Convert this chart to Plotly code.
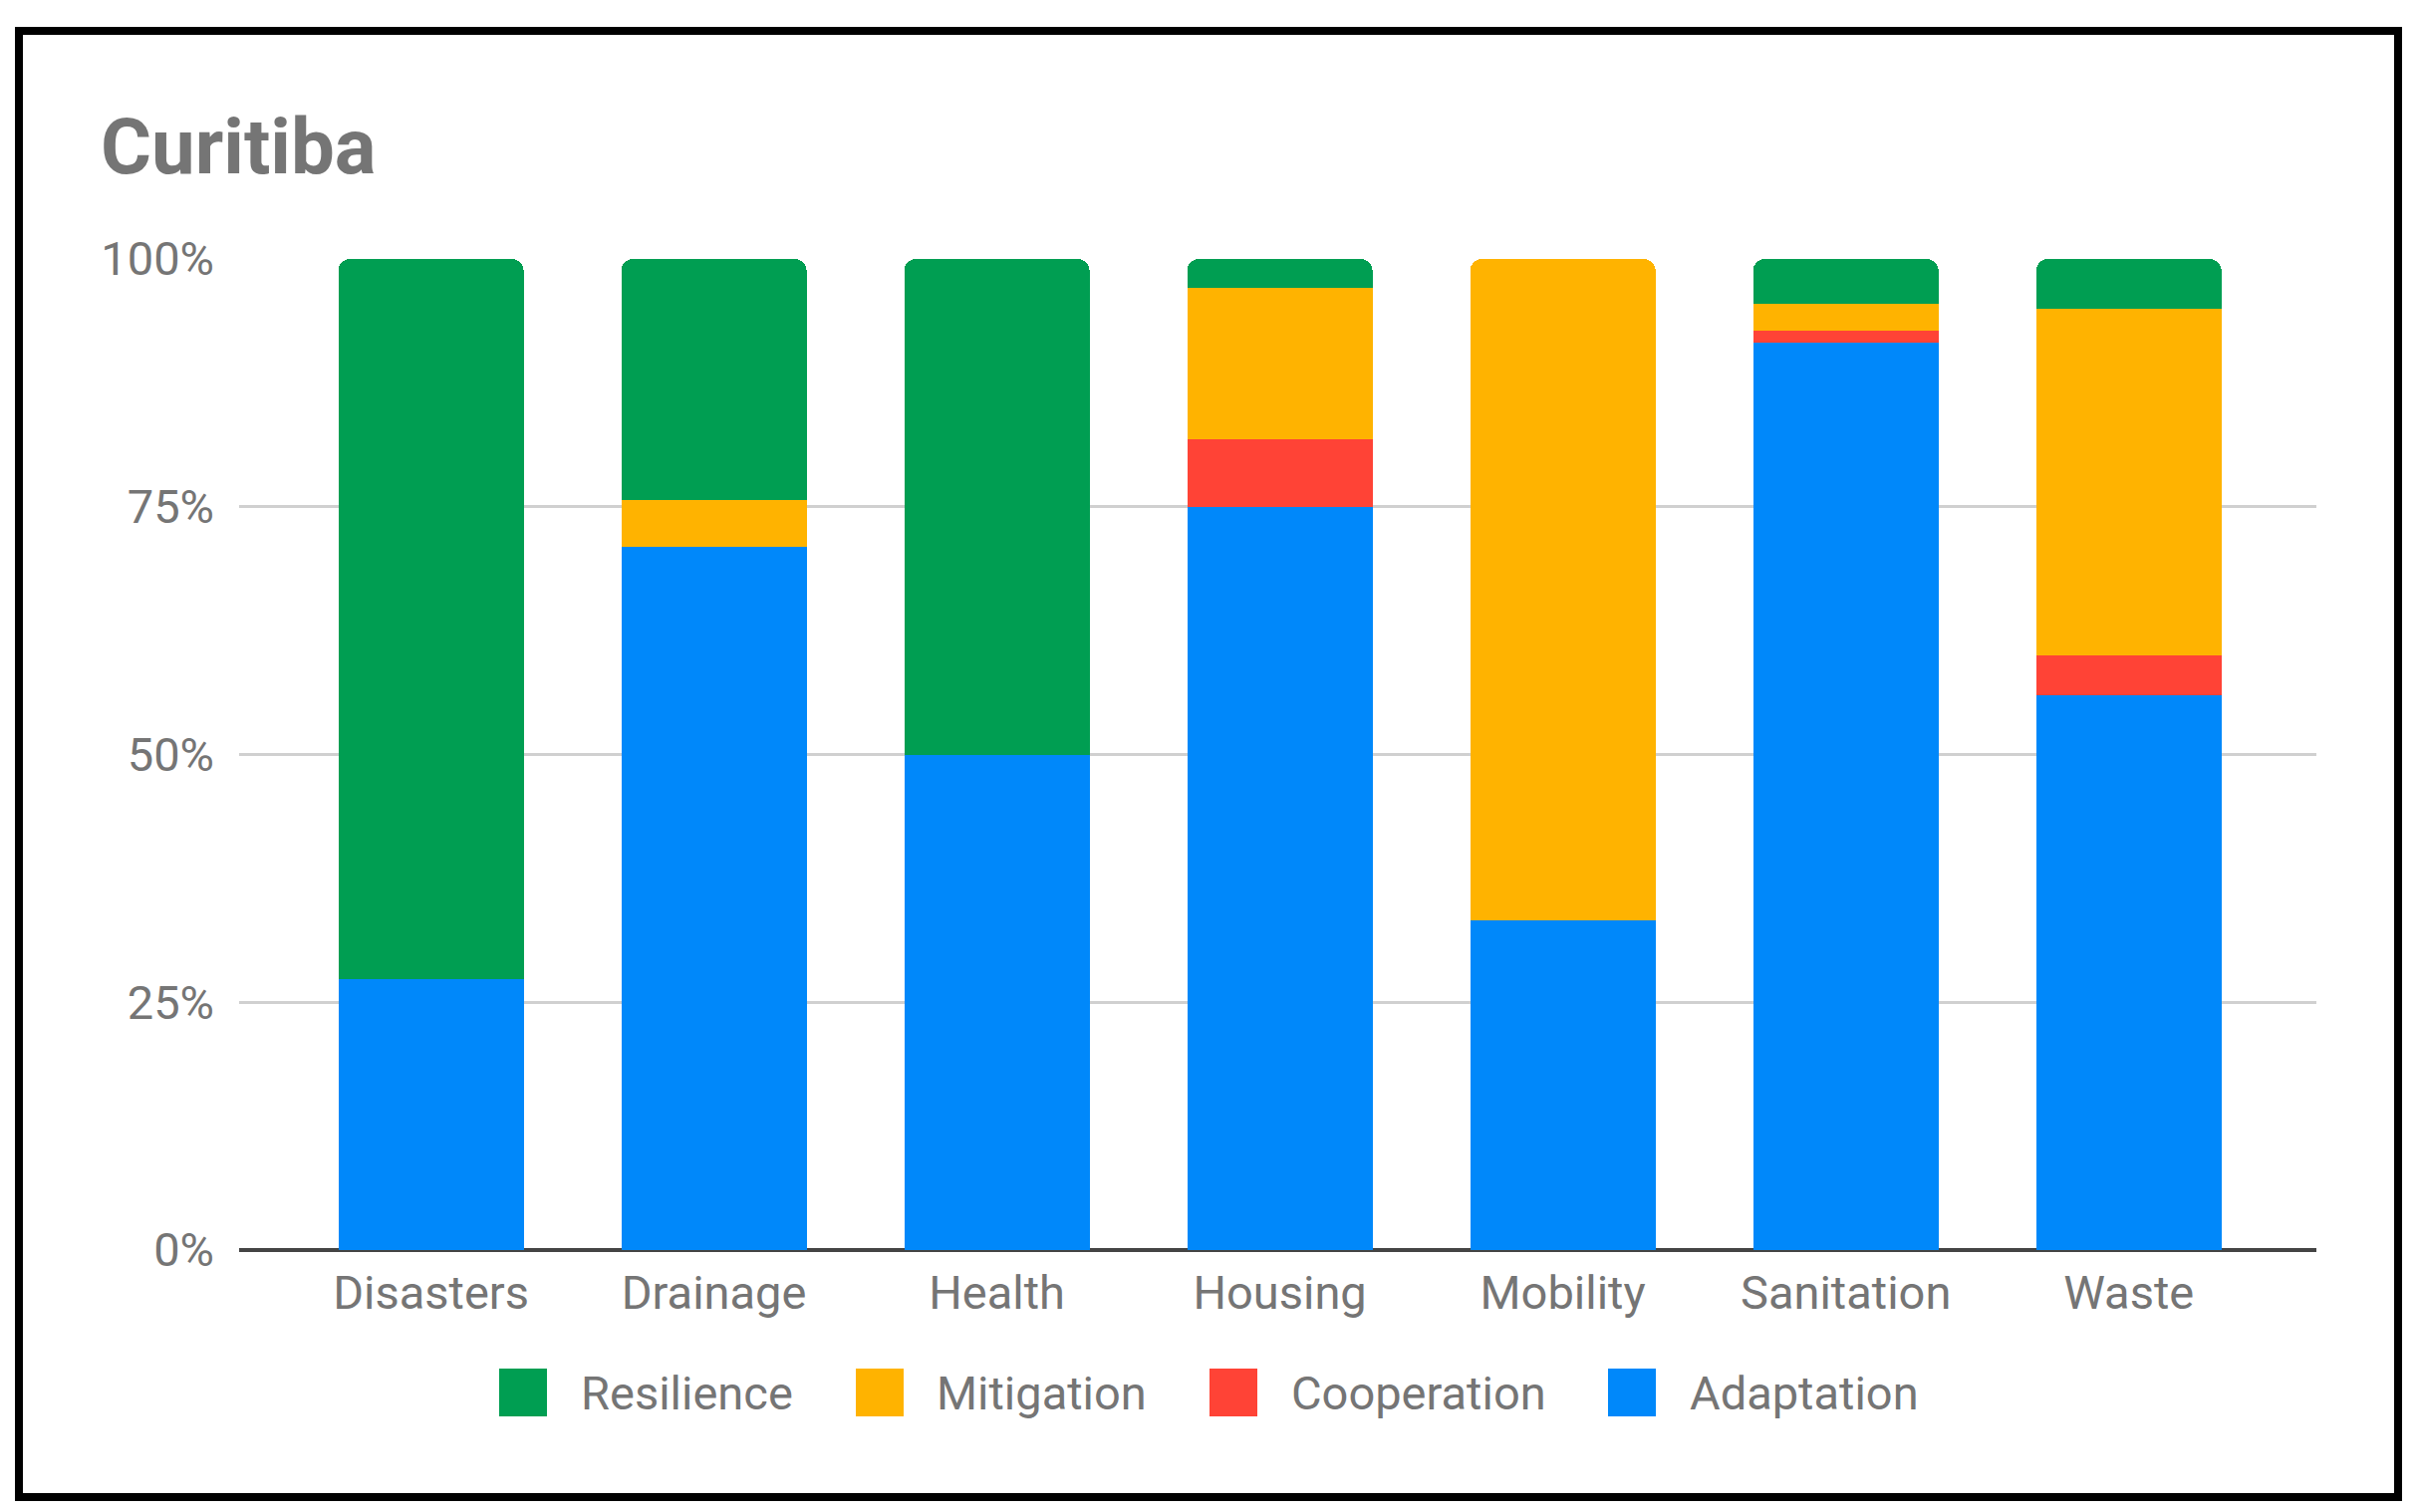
import plotly.graph_objects as go

categories = ["Disasters", "Drainage", "Health", "Housing", "Mobility", "Sanitation", "Waste"]
adaptation = [27.3, 71.0, 50.0, 75.0, 33.3, 91.6, 56.0]
cooperation = [0.0, 0.0, 0.0, 6.8, 0.0, 1.2, 4.0]
mitigation = [0.0, 4.7, 0.0, 15.3, 66.7, 2.7, 35.0]
resilience = [72.7, 24.3, 50.0, 2.9, 0.0, 4.5, 5.0]
y_ticks = [0, 25, 50, 75, 100]
y_tick_labels = ["0%", "25%", "50%", "75%", "100%"]
series_names = ["Resilience", "Mitigation", "Cooperation", "Adaptation"]

colors = {
    "Adaptation": "#0088FA",
    "Cooperation": "#FF4336",
    "Mitigation": "#FFB300",
    "Resilience": "#009E52",
}
values = {
    "Adaptation": adaptation,
    "Cooperation": cooperation,
    "Mitigation": mitigation,
    "Resilience": resilience,
}

W, H = 2430, 1518
L, R, T, B = 240, 105, 260, 263
pw, ph = W - L - R, H - T - B

def px_x(p):
    return (p - L) / pw

def px_y(p):
    return (H - B - p) / ph

fig = go.Figure()
for name in ["Adaptation", "Cooperation", "Mitigation", "Resilience"]:
    fig.add_trace(go.Bar(
        x=categories, y=values[name], name=name,
        marker=dict(color=colors[name], line=dict(width=0)),
        showlegend=False, hoverinfo="x+y+name",
    ))

font_family = "Roboto, Arial, sans-serif"
grey = "#757575"

shapes = [
    dict(type="rect", xref="paper", yref="paper",
         x0=px_x(19), x1=px_x(2407), y0=px_y(1503), y1=px_y(31),
         line=dict(color="black", width=8), fillcolor="rgba(0,0,0,0)", layer="above"),
]
annotations = [
    dict(text="<b>Curitiba</b>", xref="paper", yref="paper",
         x=px_x(99), y=px_y(147), xanchor="left", yanchor="middle",
         showarrow=False, font=dict(family=font_family, size=78, color=grey)),
]

legend_square_x = [501, 859, 1214, 1614]
legend_text_x = [581, 938, 1294, 1694]
legend_cy = 1398
sq = 48
for name, sx, tx in zip(series_names, legend_square_x, legend_text_x):
    shapes.append(dict(type="rect", xref="paper", yref="paper",
                       x0=px_x(sx), x1=px_x(sx + sq),
                       y0=px_y(legend_cy + sq / 2), y1=px_y(legend_cy - sq / 2),
                       line=dict(width=0), fillcolor=colors[name], layer="above"))
    annotations.append(dict(text=name, xref="paper", yref="paper",
                            x=px_x(tx), y=px_y(legend_cy), xanchor="left", yanchor="middle",
                            showarrow=False, font=dict(family=font_family, size=47, color=grey)))

fig.update_layout(
    width=W, height=H,
    margin=dict(l=L, r=R, t=T, b=B, autoexpand=False),
    paper_bgcolor="white", plot_bgcolor="white",
    barmode="stack", bargap=0.345, barcornerradius=12,
    showlegend=False,
    font=dict(family=font_family, size=47, color=grey),
    xaxis=dict(range=[-0.678, 6.663], showgrid=False, showline=False, zeroline=False,
               ticks="", tickfont=dict(size=47, color=grey), ticklabelstandoff=11),
    yaxis=dict(range=[0, 100], tickvals=y_ticks, ticktext=y_tick_labels,
               showgrid=True, gridcolor="#D0D0D0", gridwidth=3,
               zeroline=True, zerolinecolor="#444444", zerolinewidth=4,
               showline=False, ticks="", tickfont=dict(size=47, color=grey),
               ticklabelstandoff=24),
    shapes=shapes,
    annotations=annotations,
)

fig.write_html("out.html", config={"displayModeBar": False},
               post_script="document.body.style.margin='0';")
